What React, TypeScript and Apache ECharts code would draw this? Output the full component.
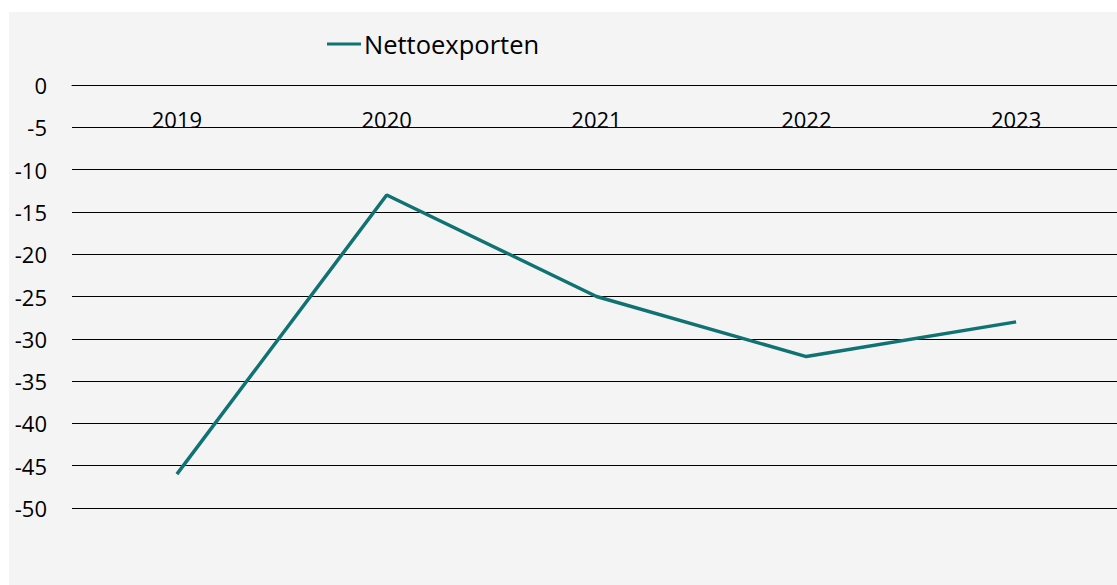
import React, { useEffect, useRef } from "react";
import * as echarts from "echarts";

const categories = ["2019", "2020", "2021", "2022", "2023"];
const nettoexporten = [-46, -13, -25, -32.1, -28];
const seriesName = "Nettoexporten";

export default function App() {
  const ref = useRef<HTMLDivElement>(null);
  useEffect(() => {
    if (!ref.current) return;
    const chart = echarts.init(ref.current, undefined, { renderer: "svg" });
    const font = "'Open Sans', sans-serif";
    chart.setOption({
      animation: false,
      backgroundColor: "#ffffff",
      graphic: [
        {
          type: "rect",
          z: -10,
          shape: { x: 9, y: 12, width: 1130, height: 573 },
          style: { fill: "#f4f4f4" },
          silent: true,
        },
      ],
      legend: {
        data: [seriesName],
        left: 327,
        top: 31,
        padding: 0,
        itemWidth: 34,
        itemHeight: 3,
        itemGap: 0,
        icon: "rect",
        textStyle: {
          fontFamily: font,
          fontSize: 25.5,
          color: "#000000",
          padding: [0, 0, 0, -2],
        },
      },
      grid: { left: 72, top: 85, width: 1049, bottom: 77, containLabel: false },
      xAxis: {
        type: "category",
        data: categories,
        position: "top",
        boundaryGap: true,
        axisLine: { show: true, lineStyle: { color: "#000000", width: 1 } },
        axisTick: { show: false },
        axisLabel: {
          inside: true,
          margin: 23,
          fontFamily: font,
          fontSize: 22,
          color: "#000000",
        },
        splitLine: { show: false },
      },
      yAxis: {
        type: "value",
        min: -50,
        max: 0,
        interval: 5,
        axisLine: { show: false },
        axisTick: { show: false },
        axisLabel: {
          margin: 25,
          fontFamily: font,
          fontSize: 22,
          color: "#000000",
        },
        splitLine: { show: true, lineStyle: { color: "#000000", width: 1 } },
      },
      series: [
        {
          name: seriesName,
          type: "line",
          data: nettoexporten,
          symbol: "none",
          lineStyle: { color: "#117273", width: 3.5 },
          itemStyle: { color: "#117273" },
        },
      ],
    });
    return () => chart.dispose();
  }, []);
  return (
    <div
      style={{
        position: "fixed",
        left: 0,
        top: 0,
        width: 1117,
        height: 585,
        overflow: "hidden",
      }}
    >
      <div ref={ref} style={{ width: 1130, height: 585 }} />
    </div>
  );
}
